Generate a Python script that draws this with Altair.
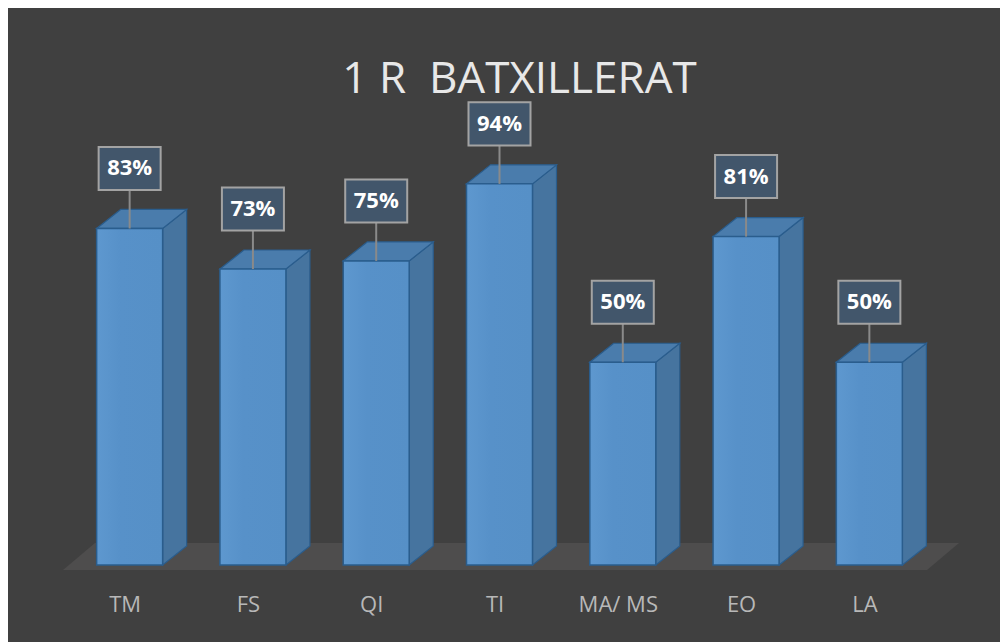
import altair as alt
import pandas as pd

# ---- data ----
categories = ["TM", "FS", "QI", "TI", "MA/ MS", "EO", "LA"]
values = [83, 73, 75, 94, 50, 81, 50]
title_text = "1 R\u00a0 BATXILLERAT"

# ---- geometry constants (in scale units) ----
PX_X = 863 / 7.0          # px per category unit
PX_Y = 446 / 110.0        # px per percent
HW = 33 / PX_X            # half bar width
DX = 24 / PX_X            # depth in x
DY = 19 / PX_Y            # depth in y

idx = list(range(len(categories)))
base = pd.DataFrame({"i": idx, "cat": categories, "v": values})
base["lbl"] = [f"{v}%" for v in values]
base["x0"] = base["i"] - HW
base["x1"] = base["i"] + HW
base["y0"] = 0.0

side_rows, top_rows = [], []
for i, c, v in zip(idx, categories, values):
    side_rows.append({"cat": c, "x": i + HW, "ylo": 0.0, "yhi": v})
    side_rows.append({"cat": c, "x": i + HW + DX, "ylo": DY, "yhi": v + DY})
    top_rows.append({"cat": c, "y": v, "xl": i - HW, "xr": i + HW})
    top_rows.append({"cat": c, "y": v + DY, "xl": i - HW + DX, "xr": i + HW + DX})
side = pd.DataFrame(side_rows)
top = pd.DataFrame(top_rows)

# floor plate
FDX = 32 / PX_X
floor = pd.DataFrame({
    "y": [-5 / PX_Y, 22 / PX_Y],
    "xl": [-0.5 - 5 / PX_X, -0.5 - 5 / PX_X + FDX],
    "xr": [len(categories) - 0.5 - 4 / PX_X, len(categories) - 0.5 - 4 / PX_X + FDX],
})

xs = alt.Scale(domain=[-0.5, len(categories) - 0.5], nice=False, zero=False)
ys = alt.Scale(domain=[0, 110], nice=False, zero=False)

label_expr = "[" + ",".join(f"'{c}'" for c in categories) + "][datum.value]"

BLUE_EDGE = "#2a5d8d"

floor_layer = alt.Chart(floor).mark_area(orient="horizontal", color="#4e4d4d").encode(
    y=alt.Y("y:Q", scale=ys, axis=None),
    x=alt.X("xl:Q", scale=xs,
            axis=alt.Axis(values=idx, labelExpr=label_expr, domain=False, ticks=False,
                          grid=False, labelPadding=29, labelFontSize=22,
                          labelFont="Open Sans", labelColor="#b8b8b8",
                          labelOffset=-5, title=None)),
    x2="xr:Q",
)

side_layer = alt.Chart(side).mark_area(color="#46749f", stroke=BLUE_EDGE, strokeWidth=1.2).encode(
    x=alt.X("x:Q", scale=xs),
    y=alt.Y("yhi:Q", scale=ys),
    y2="ylo:Q",
    detail="cat:N",
)

top_layer = alt.Chart(top).mark_area(orient="horizontal", color="#4a7cac",
                                     stroke=BLUE_EDGE, strokeWidth=1.2).encode(
    y=alt.Y("y:Q", scale=ys),
    x=alt.X("xl:Q", scale=xs),
    x2="xr:Q",
    detail="cat:N",
)

front_grad = alt.Gradient(
    gradient="linear",
    stops=[alt.GradientStop(color="#5e98cf", offset=0),
           alt.GradientStop(color="#5791c9", offset=0.35),
           alt.GradientStop(color="#5690c7", offset=1)],
    x1=0, x2=1, y1=0, y2=0,
)
front_layer = alt.Chart(base).mark_rect(color=front_grad, stroke=BLUE_EDGE, strokeWidth=1.5).encode(
    x=alt.X("x0:Q", scale=xs),
    x2="x1:Q",
    y=alt.Y("y0:Q", scale=ys),
    y2="v:Q",
)

LABEL_OFF = 60
rule_layer = alt.Chart(base).mark_rule(color="#8a8a8a", strokeWidth=2,
                                       y2Offset=-(LABEL_OFF - 21)).encode(
    x=alt.X("i:Q", scale=xs),
    y=alt.Y("v:Q", scale=ys),
    y2="v:Q",
)

box_shape = "M-1,-0.694L1,-0.694L1,0.694L-1,0.694Z"
box_layer = alt.Chart(base).mark_point(shape=box_shape, size=62 * 62, filled=True,
                                       fill="#42566b", stroke="#a3a3a3", strokeWidth=2,
                                       opacity=1, yOffset=-LABEL_OFF).encode(
    x=alt.X("i:Q", scale=xs),
    y=alt.Y("v:Q", scale=ys),
)

text_layer = alt.Chart(base).mark_text(font="Open Sans", fontSize=22, fontWeight="bold",
                                       color="#ffffff", baseline="middle",
                                       yOffset=-LABEL_OFF).encode(
    x=alt.X("i:Q", scale=xs),
    y=alt.Y("v:Q", scale=ys),
    text="lbl:N",
)

chart = alt.layer(
    floor_layer, side_layer, top_layer, front_layer, rule_layer, box_layer, text_layer
).properties(
    width=863,
    height=446,
    padding={"left": 60, "top": 111, "right": 69, "bottom": 77},
    autosize=alt.AutoSizeParams(type="none"),
    background="#404040",
    title=alt.TitleParams(title_text, font="Open Sans", fontSize=44, fontWeight="normal",
                          color="#e8e8e8", anchor="middle", frame="group",
                          offset=27, dx=20, dy=66, baseline="alphabetic"),
).configure_view(stroke=None)

chart.save("out.html", embed_options={"renderer": "svg", "actions": False})
